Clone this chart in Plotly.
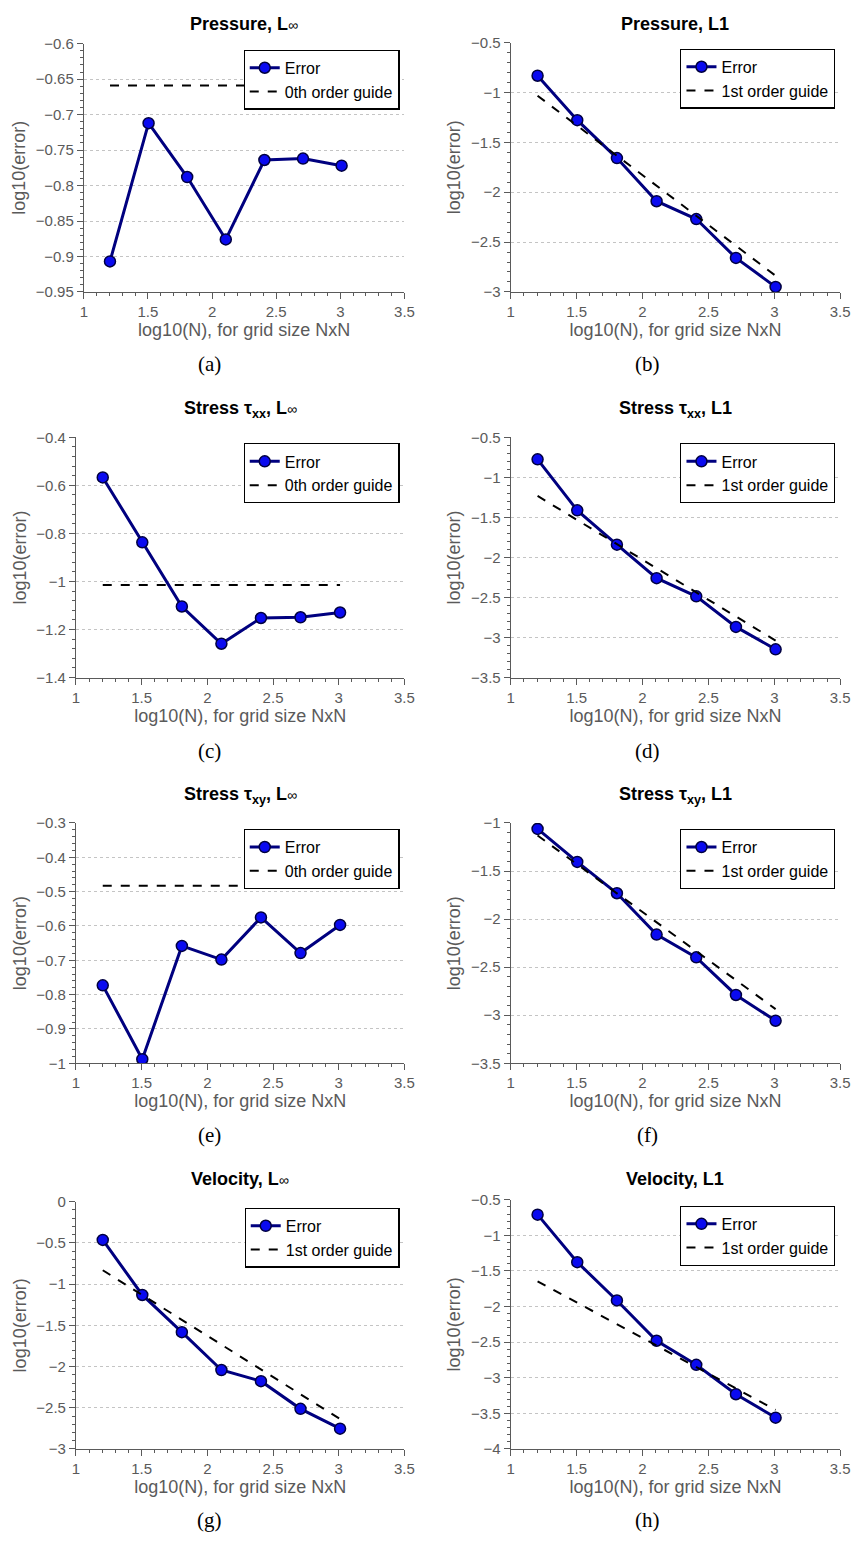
import plotly.graph_objects as go

# ---------------- data ----------------
log10_N = [1.204, 1.505, 1.806, 2.107, 2.408, 2.709, 3.010]
guide_x = [1.204, 3.010]

INF = "<span style='font-size:14px'>∞</span>"
titles = [
    "<b>Pressure, L</b>" + INF,
    "<b>Pressure, L1</b>",
    "<b>Stress τ<sub>xx</sub>, L</b>" + INF,
    "<b>Stress τ<sub>xx</sub>, L1</b>",
    "<b>Stress τ<sub>xy</sub>, L</b>" + INF,
    "<b>Stress τ<sub>xy</sub>, L1</b>",
    "<b>Velocity, L</b>" + INF,
    "<b>Velocity, L1</b>",
]
captions = ["(a)", "(b)", "(c)", "(d)", "(e)", "(f)", "(g)", "(h)"]
guide_names = ["0th order guide", "1st order guide",
               "0th order guide", "1st order guide",
               "0th order guide", "1st order guide",
               "1st order guide", "1st order guide"]

err_pressure_linf = [-0.907, -0.712, -0.788, -0.876, -0.764, -0.762, -0.772]
err_pressure_l1 = [-0.831, -1.277, -1.657, -2.090, -2.269, -2.659, -2.950]
err_txx_linf = [-0.567, -0.837, -1.104, -1.259, -1.152, -1.149, -1.129]
err_txx_l1 = [-0.775, -1.412, -1.840, -2.259, -2.485, -2.867, -3.147]
err_txy_linf = [-0.773, -0.988, -0.658, -0.698, -0.575, -0.679, -0.597]
err_txy_l1 = [-1.062, -1.405, -1.731, -2.161, -2.398, -2.789, -3.057]
err_vel_linf = [-0.463, -1.131, -1.582, -2.042, -2.177, -2.513, -2.753]
err_vel_l1 = [-0.709, -1.376, -1.914, -2.480, -2.818, -3.231, -3.560]

guide_pressure_linf = [-0.659, -0.659]
guide_pressure_l1 = [-1.032, -2.838]
guide_txx_linf = [-1.015, -1.015]
guide_txx_l1 = [-1.232, -3.038]
guide_txy_linf = [-0.483, -0.483]
guide_txy_l1 = [-1.130, -2.936]
guide_vel_linf = [-0.831, -2.637]
guide_vel_l1 = [-1.645, -3.451]

errors = [err_pressure_linf, err_pressure_l1, err_txx_linf, err_txx_l1,
          err_txy_linf, err_txy_l1, err_vel_linf, err_vel_l1]
guides = [guide_pressure_linf, guide_pressure_l1, guide_txx_linf, guide_txx_l1,
          guide_txy_linf, guide_txy_l1, guide_vel_linf, guide_vel_l1]

y_ranges = [[-0.95, -0.6], [-3, -0.5], [-1.4, -0.4], [-3.5, -0.5],
            [-1, -0.3], [-3.5, -1], [-3, 0], [-4, -0.5]]
y_dticks = [0.05, 0.5, 0.2, 0.5, 0.1, 0.5, 0.5, 0.5]
x_range = [1, 3.5]

# ---------------- layout (page pixels) ----------------
PAGE_W, PAGE_H = 862, 1545
OFF = 8                      # default body margin of the html page
W, H = PAGE_W - OFF, PAGE_H - OFF
# left, right, top, bottom in page pixels
boxes = [
    (81, 407, 35, 286), (515, 850, 34, 286),
    (73, 407, 433, 676), (515, 850, 433, 676),
    (73, 407, 823, 1066), (515, 850, 823, 1066),
    (73, 407, 1206, 1456), (515, 850, 1204, 1456),
]
title_y = [15, 15, 405, 405, 795, 795, 1183, 1183]
caption_y = [359, 359, 750, 750, 1139, 1139, 1528, 1528]
caption_x = [209, 654]

FONT = "Liberation Sans, Arial, sans-serif"
GRAY = "#5a5a5a"
NAVY = "#00007f"
BLUE = "#0a0af0"

fig = go.Figure()
layout = dict(
    width=W, height=H,
    margin=dict(l=0, r=0, t=0, b=0),
    paper_bgcolor="white", plot_bgcolor="white",
    font=dict(family=FONT, color=GRAY),
    showlegend=True,
    annotations=[],
)


def px_x(p):
    return (p - OFF) / W


def px_y(p):
    return 1 - (p - OFF) / H


for i in range(8):
    k = i + 1
    xa = "x" if k == 1 else f"x{k}"
    ya = "y" if k == 1 else f"y{k}"
    leg = "legend" if k == 1 else f"legend{k}"
    l, r, t, b = boxes[i]

    fig.add_trace(go.Scatter(
        x=log10_N, y=errors[i], name="Error", mode="lines+markers",
        line=dict(color=NAVY, width=3),
        marker=dict(symbol="circle", size=11, color=BLUE,
                    line=dict(color="#000040", width=1.5)),
        xaxis=xa, yaxis=ya, legend=leg, showlegend=True,
    ))
    fig.add_trace(go.Scatter(
        x=guide_x, y=guides[i], name=guide_names[i], mode="lines",
        line=dict(color="black", width=2, dash="dash"),
        xaxis=xa, yaxis=ya, legend=leg, showlegend=True,
    ))

    axis_common = dict(
        showline=True, linecolor=GRAY, linewidth=1,
        ticks="outside", ticklen=6, tickwidth=1, tickcolor=GRAY,
        tickfont=dict(family=FONT, size=15, color=GRAY),
        zeroline=False, mirror=False,
    )
    layout["xaxis" if k == 1 else f"xaxis{k}"] = dict(
        axis_common,
        domain=[px_x(l), px_x(r)], anchor=ya, range=x_range,
        dtick=0.5, tick0=1, showgrid=False,
        minor=dict(ticks="outside", ticklen=3, dtick=0.1, tick0=1,
                   tickcolor=GRAY, showgrid=False),
        title=dict(text="log10(N), for grid size NxN",
                   font=dict(family=FONT, size=18, color=GRAY), standoff=2),
    )
    layout["yaxis" if k == 1 else f"yaxis{k}"] = dict(
        axis_common,
        domain=[px_y(b), px_y(t)], anchor=xa, range=y_ranges[i],
        dtick=y_dticks[i], tick0=0,
        showgrid=True, gridcolor="#c4c4c4", gridwidth=1, griddash="dot",
        minor=dict(ticks="outside", ticklen=3, dtick=y_dticks[i] / 5, tick0=0,
                   tickcolor=GRAY, showgrid=False),
        title=dict(text="log10(error)",
                   font=dict(family=FONT, size=18, color=GRAY), standoff=5),
    )
    layout[leg] = dict(
        x=px_x(r - 5), y=px_y(t + 6), xanchor="right", yanchor="top",
        xref="paper", yref="paper",
        bgcolor="white", bordercolor="black", borderwidth=1.2,
        font=dict(family=FONT, size=16, color="black"),
        tracegroupgap=0, itemwidth=30,
    )
    layout["annotations"].append(dict(
        text=titles[i], x=px_x((l + r) / 2), y=px_y(title_y[i]),
        xref="paper", yref="paper", xanchor="center", yanchor="middle",
        showarrow=False, font=dict(family=FONT, size=18, color="black"),
    ))
    layout["annotations"].append(dict(
        text=captions[i], x=px_x(caption_x[i % 2]), y=px_y(caption_y[i]),
        xref="paper", yref="paper", xanchor="center", yanchor="middle",
        showarrow=False,
        font=dict(family="Liberation Serif, DejaVu Serif, serif", size=21,
                  color="black"),
    ))

fig.update_layout(**layout)
fig.write_html("out.html")
